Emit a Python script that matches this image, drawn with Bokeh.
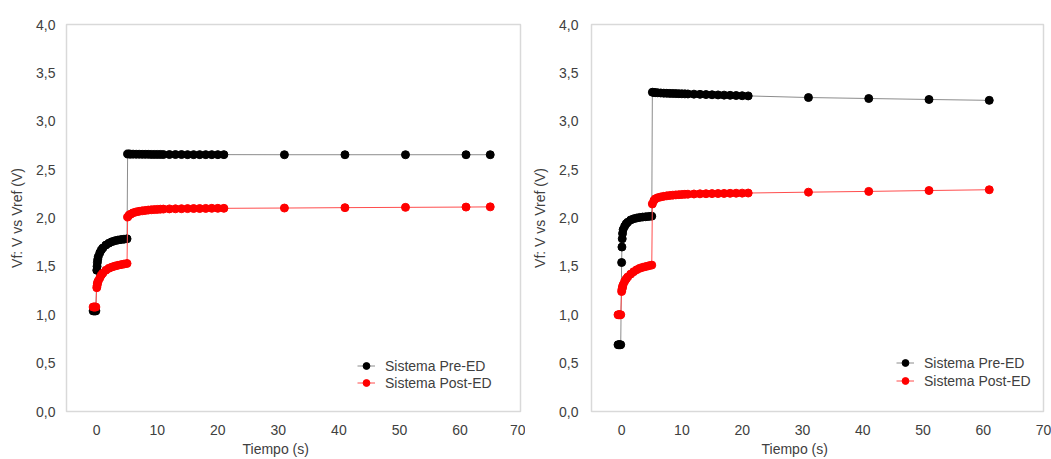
from bokeh.plotting import figure
from bokeh.layouts import row
from bokeh.models import FixedTicker, Legend, LegendItem, Title
from bokeh.embed import file_html
from bokeh.resources import INLINE

# Time axis (s) for the first system and the measured voltages (V)
t_left = [-0.6, -0.45, -0.3, -0.15,
          0.0, 0.05, 0.1, 0.15, 0.25, 0.5, 0.75, 1.0, 1.5, 2.0, 2.5, 3.0, 3.5, 4.0, 4.5, 5.0,
          5.1, 5.35, 5.6, 6.0, 6.5, 7.0, 7.5, 8.0, 8.5, 9.0, 9.5, 10.0, 10.5, 11.0,
          12, 13, 14, 15, 16, 17, 18, 19, 20, 21,
          31, 41, 51, 61, 65]
pre_left = [1.04, 1.04, 1.04, 1.04,
            1.46, 1.50, 1.54, 1.57, 1.60, 1.64, 1.67, 1.69, 1.72, 1.74, 1.755, 1.765, 1.772, 1.777, 1.781, 1.785,
            2.662, 2.661, 2.660, 2.660, 2.659, 2.659, 2.658, 2.658, 2.658, 2.657, 2.657, 2.657, 2.657, 2.656,
            2.656, 2.656, 2.656, 2.655, 2.655, 2.655, 2.655, 2.655, 2.655, 2.655,
            2.654, 2.654, 2.654, 2.654, 2.654]
post_left = [1.08, 1.08, 1.08, 1.08,
             1.28, 1.30, 1.32, 1.335, 1.35, 1.38, 1.41, 1.43, 1.46, 1.48, 1.493, 1.503, 1.511, 1.518, 1.524, 1.53,
             2.01, 2.03, 2.04, 2.053, 2.063, 2.069, 2.074, 2.078, 2.082, 2.085, 2.087, 2.089, 2.091, 2.092,
             2.094, 2.095, 2.096, 2.097, 2.098, 2.098, 2.099, 2.100, 2.100, 2.100,
             2.103, 2.107, 2.110, 2.113, 2.115]

# Second system
t_right = [-0.6, -0.45, -0.3, -0.15,
           0.0, 0.05, 0.1, 0.15, 0.25, 0.5, 0.75, 1.0, 1.5, 2.0, 2.5, 3.0, 3.5, 4.0, 4.5, 5.0,
           5.1, 5.35, 5.6, 6.0, 6.5, 7.0, 7.5, 8.0, 8.5, 9.0, 9.5, 10.0, 10.5, 11.0,
           12, 13, 14, 15, 16, 17, 18, 19, 20, 21,
           31, 41, 51, 61]
pre_right = [0.69, 0.69, 0.69, 0.69,
             1.54, 1.70, 1.785, 1.84, 1.88, 1.915, 1.94, 1.956, 1.98, 1.992, 2.0, 2.006, 2.01, 2.013, 2.016, 2.019,
             3.300, 3.298, 3.296, 3.294, 3.292, 3.290, 3.289, 3.288, 3.287, 3.286, 3.285, 3.284, 3.283, 3.282,
             3.280, 3.278, 3.276, 3.274, 3.272, 3.270, 3.268, 3.266, 3.264, 3.262,
             3.245, 3.235, 3.225, 3.216]
post_right = [1.0, 1.0, 1.0, 1.0,
              1.24, 1.26, 1.275, 1.29, 1.31, 1.345, 1.37, 1.39, 1.42, 1.445, 1.465, 1.48, 1.49, 1.498, 1.506, 1.513,
              2.145, 2.18, 2.198, 2.21, 2.218, 2.224, 2.229, 2.233, 2.236, 2.239, 2.241, 2.243, 2.245, 2.246,
              2.248, 2.25, 2.251, 2.252, 2.253, 2.254, 2.255, 2.256, 2.257, 2.258,
              2.267, 2.275, 2.284, 2.292]

series_names = ["Sistema Pre-ED", "Sistema Post-ED"]
x_ticks = [0, 10, 20, 30, 40, 50, 60, 70]
y_ticks = [0.0, 0.5, 1.0, 1.5, 2.0, 2.5, 3.0, 3.5, 4.0]
y_tick_labels = ["0,0", "0,5", "1,0", "1,5", "2,0", "2,5", "3,0", "3,5", "4,0"]
x_title = "Tiempo (s)"
y_title = "Vf: V vs Vref (V)"

FONT = "Liberation Sans"
TEXT = "#404040"


def panel(t, pre, post, width, bl, br, bt, bb, ystandoff, legend_xy, row_gap, xtitle_offset):
    p = figure(width=width, height=459, x_range=(-5, 70), y_range=(0, 4),
               output_backend="svg", toolbar_location=None,
               min_border_left=bl, min_border_right=br,
               min_border_top=bt, min_border_bottom=bb,
               background_fill_color="white", border_fill_color="white")
    p.grid.visible = False
    p.outline_line_color = "#d9d9d9"
    p.outline_line_width = 1.5

    p.xaxis.ticker = FixedTicker(ticks=x_ticks)
    p.yaxis.ticker = FixedTicker(ticks=y_ticks)
    p.yaxis.major_label_overrides = dict(zip(y_ticks, y_tick_labels))
    for ax in (p.xaxis, p.yaxis):
        ax.axis_line_color = None
        ax.major_tick_line_color = None
        ax.minor_tick_line_color = None
        ax.major_tick_out = 0
        ax.major_tick_in = 0
        ax.major_label_text_font = FONT
        ax.major_label_text_font_size = "14px"
        ax.major_label_text_color = TEXT
    p.xaxis.major_label_standoff = 13
    p.yaxis.major_label_standoff = ystandoff

    p.yaxis.axis_label = y_title
    p.yaxis.axis_label_text_font = FONT
    p.yaxis.axis_label_text_font_size = "14px"
    p.yaxis.axis_label_text_font_style = "normal"
    p.yaxis.axis_label_text_color = TEXT
    p.yaxis.axis_label_standoff = 8

    # x-axis title, placed a little left of the frame centre
    p.add_layout(Title(text=x_title, align="left", offset=xtitle_offset,
                       text_font=FONT, text_font_size="14px", text_font_style="normal",
                       text_color=TEXT, standoff=2), "below")

    l1 = p.line(t, pre, line_color="#8c8c8c", line_width=1)
    s1 = p.scatter(t, pre, size=8, fill_color="black", line_color="black")
    l2 = p.line(t, post, line_color="#ff4d4d", line_width=1)
    s2 = p.scatter(t, post, size=8, fill_color="#ff0000", line_color="#ff0000")

    legend = Legend(items=[LegendItem(label=series_names[0], renderers=[l1, s1]),
                           LegendItem(label=series_names[1], renderers=[l2, s2])],
                    location=legend_xy)
    legend.border_line_color = None
    legend.background_fill_alpha = 0
    legend.padding = 0
    legend.margin = 0
    legend.spacing = row_gap
    legend.glyph_width = 18
    legend.glyph_height = 17
    legend.label_height = 17
    legend.label_standoff = 10
    legend.label_text_font = FONT
    legend.label_text_font_size = "14px"
    legend.label_text_color = TEXT
    p.add_layout(legend)
    return p


p1 = panel(t_left, pre_left, post_left, 525, 66, 5, 21, 47, 11, (291, 20), 0, 176)
p2 = panel(t_right, pre_right, post_right, 526, 66, 8, 24, 48, 13, (305, 22), 1, 170)

layout = row(p1, p2)
open("out.html", "w").write(file_html(layout, INLINE))
